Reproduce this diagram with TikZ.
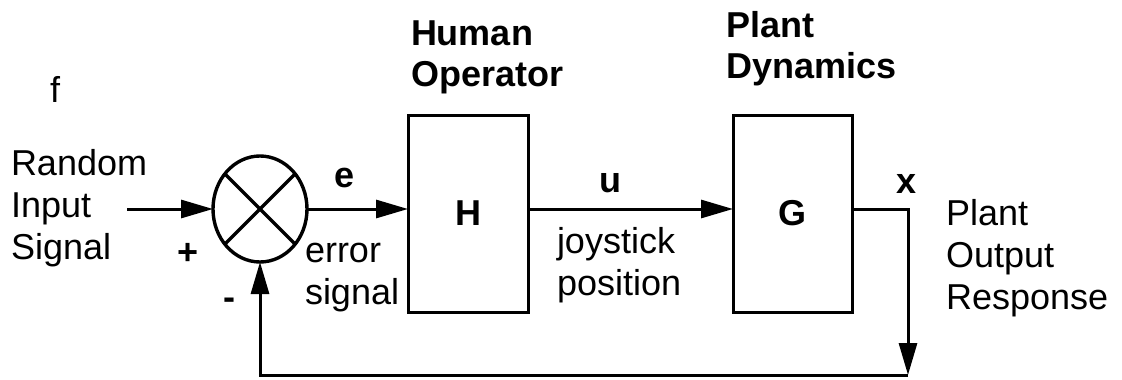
\documentclass[tikz,border=0pt]{standalone}
\usepackage{fontspec}
\setmainfont{Liberation Sans}
\usetikzlibrary{arrows.meta,shapes.geometric}
\begin{document}
\begin{tikzpicture}[x=1pt,y=-1pt,
  every node/.style={inner sep=0pt,outer sep=0pt},
  txt/.style={font=\fontsize{36}{42}\selectfont,align=left,anchor=north west},
  btxt/.style={font=\fontsize{36}{41}\selectfont\bfseries,align=left,anchor=north west},
  lbl/.style={font=\fontsize{36}{42}\selectfont\bfseries,anchor=base},
  blockbox/.style={draw,line width=3pt,minimum width=120pt,minimum height=197pt,font=\fontsize{36}{42}\selectfont\bfseries},
  sumj/.style={draw,ellipse,line width=3.4pt,minimum width=94pt,minimum height=106pt},
  arr/.style={line width=3pt,-{Triangle[length=32pt,width=18pt]}},
  ln/.style={line width=3.2pt}]
\useasboundingbox (0,0) rectangle (1122,380);
% blocks
\node[sumj] (sum) at (260,209) {};
\node[blockbox] (H) at (468,213.5) {H};
\node[blockbox,minimum width=119pt] (G) at (792.5,213.5) {G};
\coordinate (in) at (127,209);
\coordinate (br) at (908,375);
% cross in summing junction
\draw[ln] (sum.135) -- (sum.-45);
\draw[ln] (sum.45) -- (sum.-135);
% connectors
\draw[arr] (in) -- (sum.west);
\draw[arr] (sum.east) -- (sum.east -| H.west);
\draw[arr] (sum.east -| H.east) -- (sum.east -| G.west);
\draw[arr] (sum.east -| G.east) -| (br);
\draw[arr] (br) -- (sum.south |- br) -- (sum.south);
% texts
\node[txt] (f) at (50,76) {f};
\node[txt] (rin) at (11,149) {Random\\Input\\Signal};
\node[btxt] (ho) at (411,21) {Human\\Operator};
\node[btxt] (pd) at (726,11) {Plant\\Dynamics};
\node[txt] (es) at (305,243) {error\\signal};
\node[txt] (js) at (557,227) {joystick\\position};
\node[txt] (por) at (946,199) {Plant\\Output\\Response};
\node[lbl] (e) at (345,187) {e};
\node[lbl] (u) at (610,192) {u};
\node[lbl] (x) at (907,193) {x};
\node[lbl] (plus) at (188,264) {+};
\node[lbl] (minus) at (229,309) {-};
\end{tikzpicture}
\end{document}
